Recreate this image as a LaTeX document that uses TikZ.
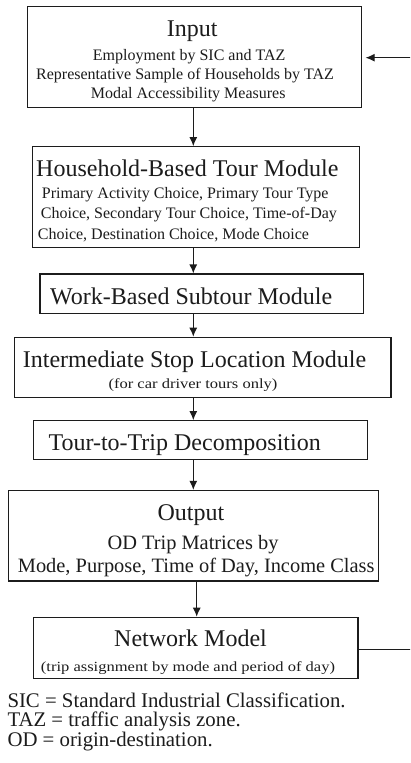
\documentclass[tikz,border=0pt]{standalone}
\usepackage{fontspec}
\usepackage{graphicx}
\setmainfont{Liberation Serif}
\usetikzlibrary{arrows.meta}
\definecolor{ink}{RGB}{28,28,28}
\tikzset{
  box/.style={draw=ink, line width=1.2pt, inner sep=0pt, rectangle},
  flow/.style={draw=ink, line width=1.1pt, -{Latex[length=9pt,width=8pt]}},
  txt/.style={anchor=base west, inner sep=0pt, text=ink},
  ctxt/.style={anchor=base, inner sep=0pt, text=ink},
  big/.style={font=\fontsize{24}{28}\selectfont},
  small/.style={font=\fontsize{16}{19}\selectfont},
  mid/.style={font=\fontsize{20.4}{24}\selectfont},
  note/.style={font=\fontsize{20.8}{24}\selectfont},
}
\newcommand{\widenote}[1]{\scalebox{1.18}[1]{\fontsize{14}{16}\selectfont #1}}
\begin{document}
\begin{tikzpicture}[x=1pt,y=-1pt]
\useasboundingbox (0,0) rectangle (410,763);
\clip (0,0) rectangle (410,763);
\fill[white] (0,0) rectangle (410,763);

% boxes
\node[box, minimum width=334.4pt, minimum height=100.6pt] (input) at (194.5,57) {};
\node[box, minimum width=326.6pt, minimum height=101pt]   (hh)    at (196,197.2) {};
\node[box, minimum width=323.3pt, minimum height=39.3pt]  (wb)    at (201.7,293.7) {};
\node[box, minimum width=376.7pt, minimum height=60pt]    (isl)   at (202.7,367.3) {};
\node[box, minimum width=334.4pt, minimum height=38.6pt]  (ttd)   at (200.5,440) {};
\node[box, minimum width=370pt,   minimum height=90.5pt]  (out)   at (193.3,535.7) {};
\node[box, minimum width=324.7pt, minimum height=61pt]    (net)   at (195.7,647.8) {};

% box texts
\node[txt, big]   (inT)  at (166.7,36.7) {Input};
\node[txt, small] (inA)  at (92.7,60.7)  {Employment by SIC and TAZ};
\node[txt, small] (inB)  at (36,79)      {Representative Sample of Households by TAZ};
\node[txt, small] (inC)  at (90.7,98.3)  {Modal Accessibility Measures};

\node[txt, big]   (hhT)  at (36,176)     {Household-Based Tour Module};
\node[txt, small] (hhA)  at (41.7,198.3) {Primary Activity Choice, Primary Tour Type};
\node[txt, small] (hhB)  at (40.7,218.3) {Choice, Secondary Tour Choice, Time-of-Day};
\node[txt, small] (hhC)  at (37.7,239)   {Choice, Destination Choice, Mode Choice};

\node[txt, big]   (wbT)  at (50,304.3)   {Work-Based Subtour Module};

\node[txt, big]   (islT) at (22.7,367.3) {Intermediate Stop Location Module};
\node[ctxt]       (islA) at (193,388.3)  {\widenote{(for car driver tours only)}};

\node[txt, big]   (ttdT) at (48.3,450)   {Tour-to-Trip Decomposition};

\node[ctxt, big]  (outT) at (191,520.5)  {Output};
\node[ctxt, mid]  (outA) at (193,549.5)  {OD Trip Matrices by};
\node[txt, mid]   (outB) at (17.7,572.5) {Mode, Purpose, Time of Day, Income Class};

\node[txt, big]   (netT) at (114,646.7)  {Network Model};
\node[ctxt]       (netA) at (188,671)    {\widenote{(trip assignment by mode and period of day)}};

% footnotes
\node[txt, note] (fn1) at (7.3,707.5) {SIC = Standard Industrial Classification.};
\node[txt, note] (fn2) at (7.3,726.8) {TAZ = traffic analysis zone.};
\node[txt, note] (fn3) at (7.3,746.3) {OD = origin-destination.};

% main flow
\coordinate (spine) at (193.3,0);
\coordinate (spineb) at (196.7,0);
\draw[flow] (input.south -| spine) -- (hh.north -| spine);
\draw[flow] (hh.south -| spine)    -- (wb.north -| spine);
\draw[flow] (wb.south -| spine)    -- (isl.north -| spine);
\draw[flow] (isl.south -| spine)   -- (ttd.north -| spine);
\draw[flow] (ttd.south -| spine)   -- (out.north -| spine);
\draw[flow] (out.south -| spineb)  -- (net.north -| spineb);

% feedback loop from the network model back to the input
\coordinate (loopx) at (430,0);
\coordinate (lowy) at (0,649.3);
\coordinate (highy) at (0,57.7);
\draw[flow, shorten >=3.3pt] (net.east |- lowy) -- (loopx |- lowy) -- (loopx |- highy) -- (input.east |- highy);
\end{tikzpicture}
\end{document}
